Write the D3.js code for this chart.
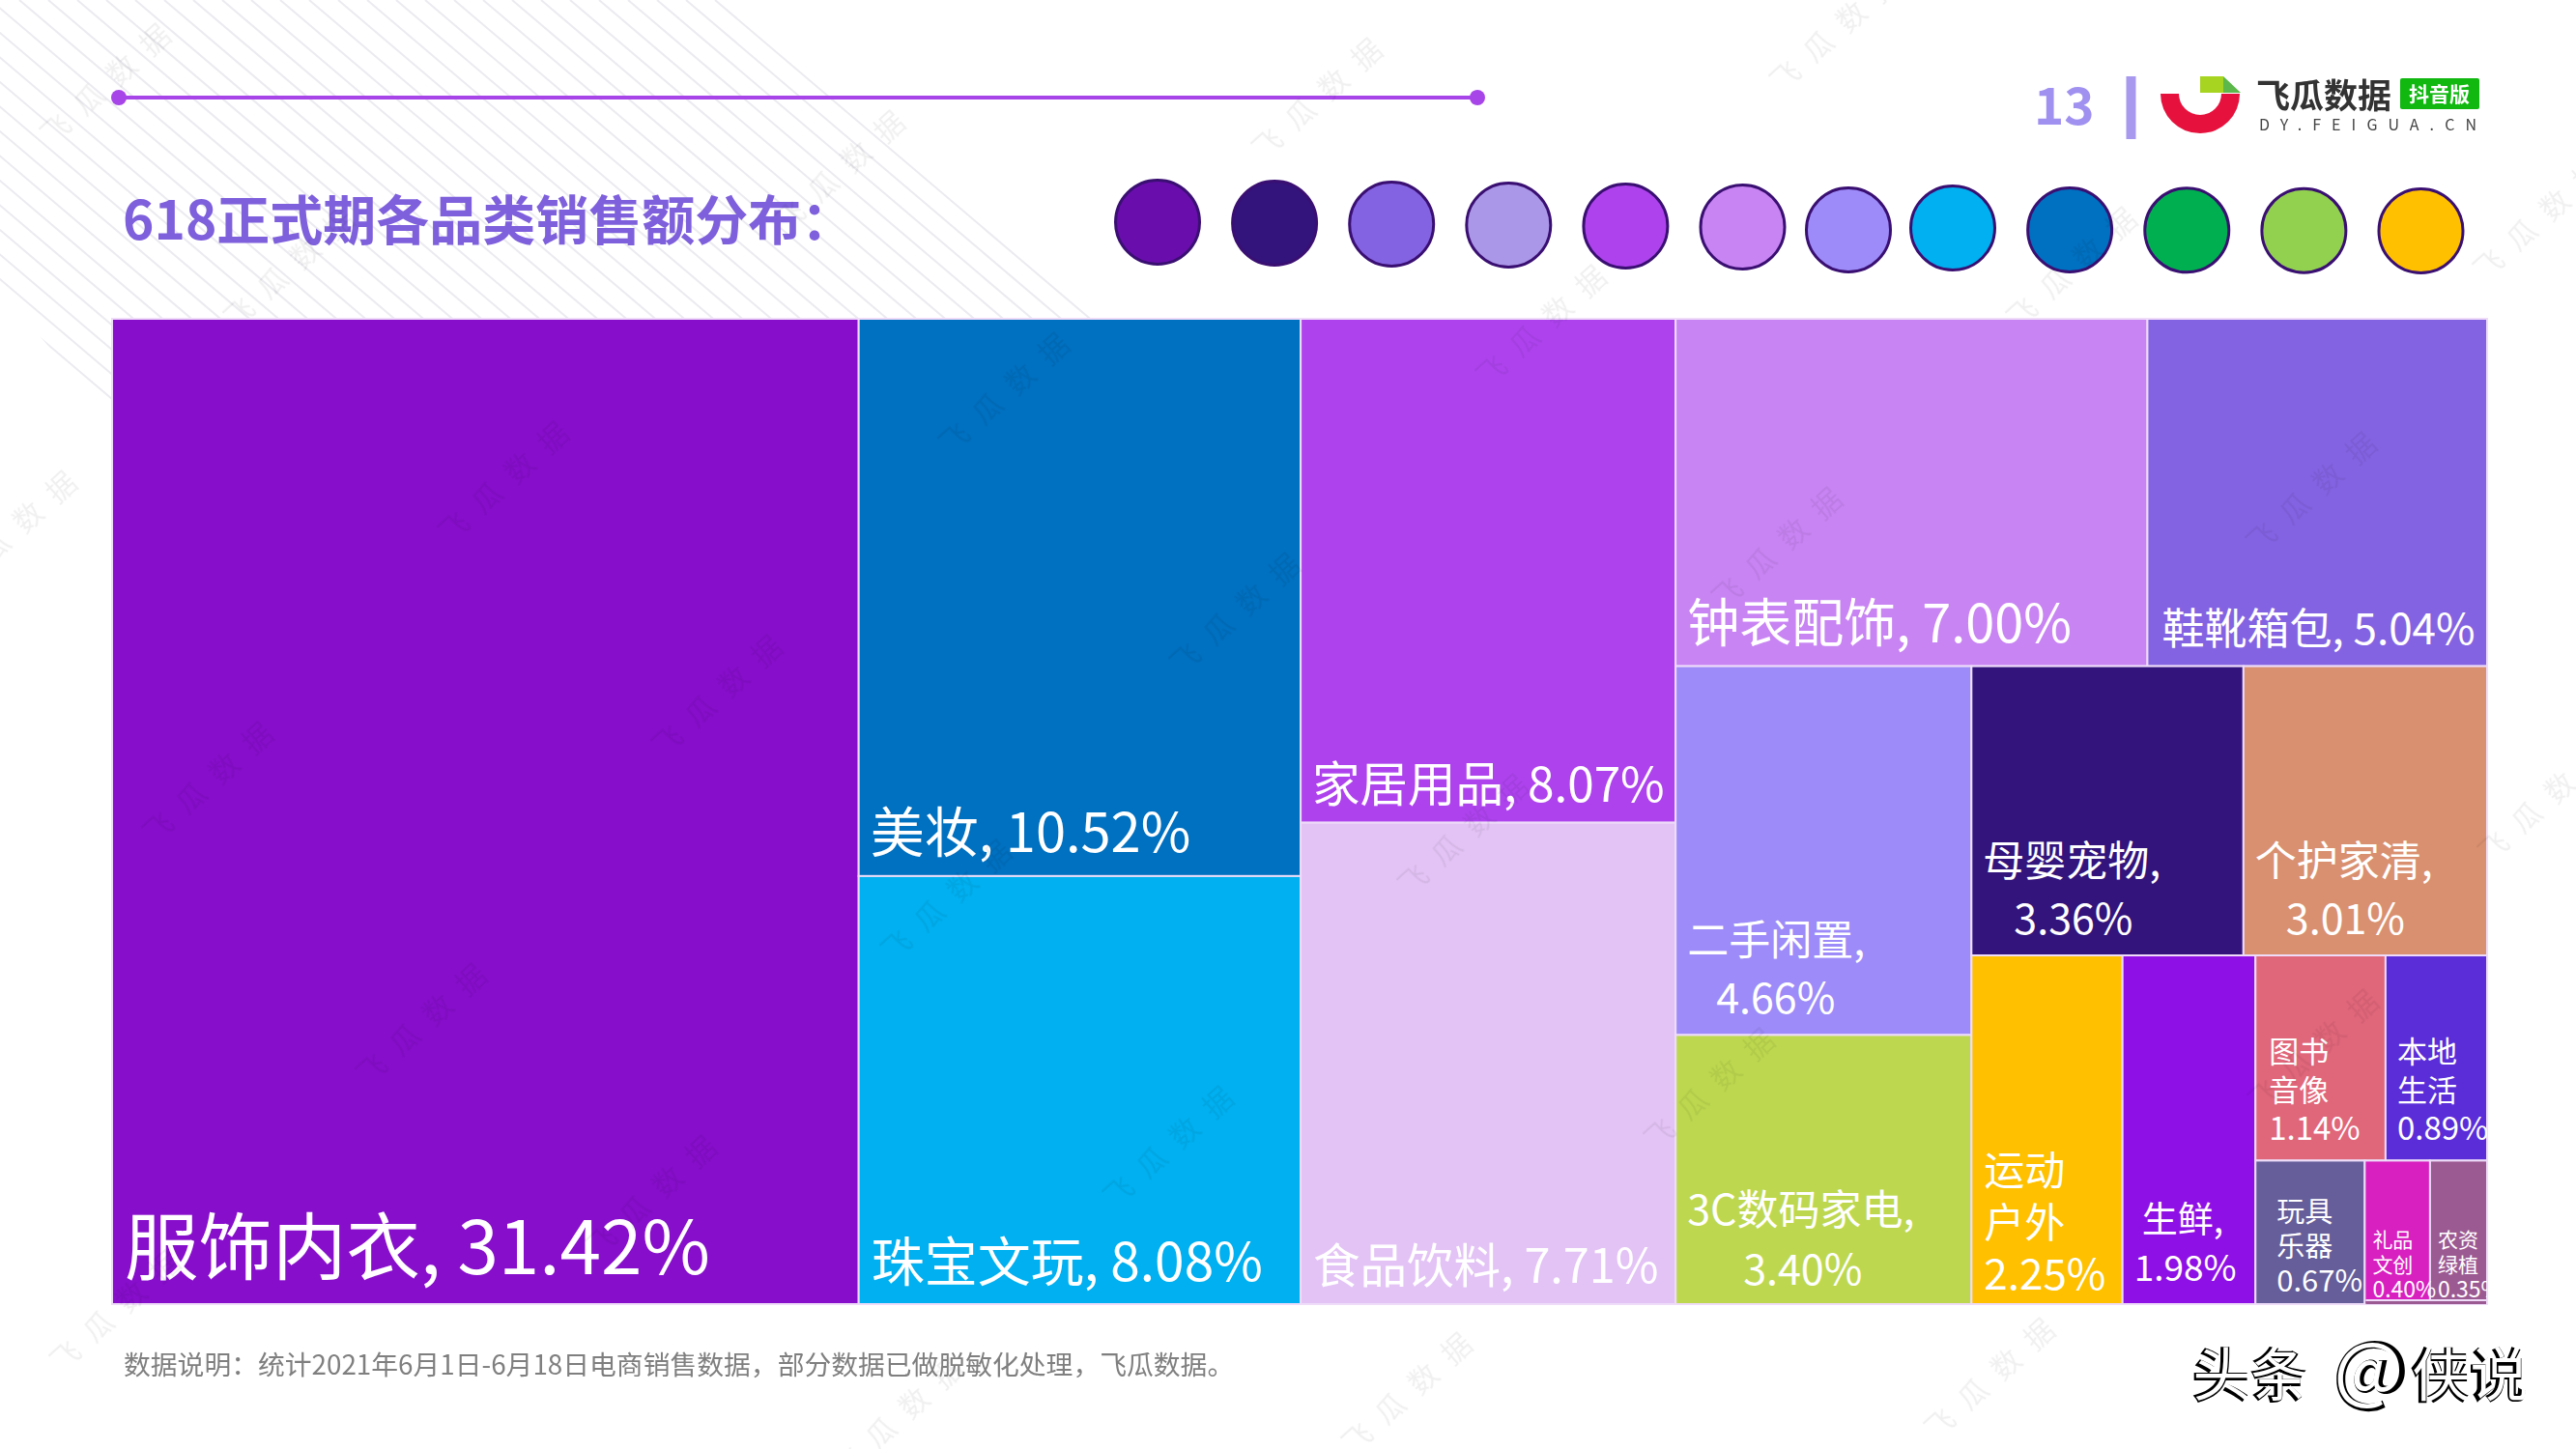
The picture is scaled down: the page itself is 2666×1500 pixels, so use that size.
<!DOCTYPE html>
<html>
<head>
<meta charset="utf-8">
<script src="https://cdn.jsdelivr.net/npm/d3@7"></script>
<style>
  html, body { margin: 0; padding: 0; background: #fff; }
  svg { display: block; }
  text { font-family: "Noto Sans CJK SC", "Noto Sans", sans-serif; }
</style>
</head>
<body>
<script>
// treemap values, in reading order
var categories = ["服饰内衣", "美妆", "珠宝文玩", "家居用品", "食品饮料", "钟表配饰", "鞋靴箱包", "二手闲置", "3C数码家电",
  "母婴宠物", "个护家清", "运动户外", "生鲜", "图书音像", "本地生活", "玩具乐器", "礼品文创", "农资绿植"];
var shares = [31.42, 10.52, 8.08, 8.07, 7.71, 7.00, 5.04, 4.66, 3.40, 3.36, 3.01, 2.25, 1.98, 1.14, 0.89, 0.67, 0.40, 0.35];
var cellColors = ["#870ecb", "#0070c0", "#00b0f0", "#ae43ee", "#e3c3f5", "#c884f3", "#8463e2", "#9c8bf8", "#bdd84f",
  "#32147c", "#d99070", "#ffc000", "#8f10e6", "#e0667a", "#5a2dd9", "#665e9a", "#d81fbf", "#9c5a92"];
var swatchColors = ["#6a0dad", "#32147c", "#8463e2", "#ab97e8", "#ae43ee", "#c884f3", "#9c8bf8", "#00b0f0", "#0070c0",
  "#00b050", "#92d050", "#ffc000"];

var titleText = "618正式期各品类销售额分布：";
var noteText = "数据说明：统计2021年6月1日-6月18日电商销售数据，部分数据已做脱敏化处理，飞瓜数据。";

// how the boxes nest: each entry is an index into categories, or a group
var nesting = [0, [1, 2], [3, 4], [[5, 6], [[7, 8], [[9, 10], [11, 12, [[13, 14], [15, 16, 17]]]]]]];

// label line breaks and placement, same order as categories
// s: font size, ps: size of the % line, dx/dy: offset from cell left/bottom, lh: line height, ind: indent per line
var labelStyle = [
  {split: 1, s: 76.5, dx: 13, dy: 31},
  {split: 1, s: 56, dx: 12, dy: 25},
  {split: 1, s: 55, dx: 13, dy: 24},
  {split: 1, s: 49.5, dx: 12, dy: 22},
  {split: 1, s: 48.5, dx: 13, dy: 22},
  {split: 1, s: 54, dx: 12, dy: 25},
  {split: 1, s: 44, dx: 15, dy: 23},
  {split: 2, s: 43, dx: 12, dy: 22, lh: 60, ind: [0, 30]},
  {split: 2, s: 43, dx: 12, dy: 20, lh: 62, ind: [0, 58]},
  {split: 2, s: 43, dx: 12, dy: 22, lh: 60, ind: [0, 32]},
  {split: 2, s: 43, dx: 12, dy: 22, lh: 60, ind: [0, 32]},
  {split: 3, s: 42, ps: 44, dx: 13, dy: 15, lh: 54, ind: [0, 0, 0]},
  {split: 2, s: 37, dx: 12, dy: 24, lh: 50, ind: [8, 0]},
  {split: 3, s: 31, ps: 33, dx: 14, dy: 21, lh: 40, ind: [0, 0, 0]},
  {split: 3, s: 31, ps: 33, dx: 12, dy: 21, lh: 40, ind: [0, 0, 0]},
  {split: 3, s: 29, ps: 31, dx: 22, dy: 13, lh: 36, ind: [0, 0, 0]},
  {split: 3, s: 21, ps: 23, dx: 8, dy: 7, lh: 26, ind: [0, 0, 0]},
  {split: 3, s: 21, ps: 23, dx: 8, dy: 7, lh: 26, ind: [0, 0, 0]}
];

var width = 2666, height = 1500;
var box = {left: 116, top: 330, right: 2574, bottom: 1350};

var svg = d3.select("body").append("svg").attr("width", width).attr("height", height);
var defs = svg.append("defs");

// faint diagonal background stripes in the top left wedge
defs.append("clipPath").attr("id", "stripeClip").append("path")
  .attr("d", "M0,0H745L1146,330H116V435L0,300Z");
svg.append("g").attr("clip-path", "url(#stripeClip)")
  .selectAll("path").data(d3.range(-700, 760, 30)).enter().append("path")
  .attr("d", function (d) { return "M" + d + ",0L" + (d + 560) + ",476"; })
  .attr("fill", "none").attr("stroke", "#ebebf0").attr("stroke-width", 2);

// header rule
var rule = svg.append("g").attr("fill", "#a745e8");
rule.append("rect").attr("x", 123).attr("y", 99).attr("width", 1406).attr("height", 4);
rule.selectAll("circle").data([123, 1529]).enter().append("circle")
  .attr("cx", function (d) { return d; }).attr("cy", 101).attr("r", 8);

svg.append("text").attr("x", 127).attr("y", 248).attr("font-size", 55).attr("font-weight", 700)
  .attr("fill", "#7e5fdc").text(titleText);

// colour dots
var dotX = d3.scaleLinear().domain([0, 5, 6, 7, 11]).range([1198, 1803.5, 1913, 2021, 2505.5]);
var dotY = d3.scaleLinear().domain([0, 5, 6, 7, 8, 11]).range([230, 235, 238, 236, 238, 239]);
svg.append("g").selectAll("circle").data(swatchColors).enter().append("circle")
  .attr("cx", function (d, i) { return dotX(i); })
  .attr("cy", function (d, i) { return dotY(i); })
  .attr("r", 43.5)
  .attr("fill", function (d) { return d; })
  .attr("stroke", "#3a0f72").attr("stroke-width", 3);

// treemap: boxes alternate between columns and rows with depth, so sliceDice gives the layout
function toTree(node) {
  if (typeof node === "number") return {name: categories[node], idx: node, value: shares[node]};
  return {children: node.map(toTree)};
}
var root = d3.hierarchy({children: nesting.map(toTree)}).sum(function (d) { return d.value || 0; });
d3.treemap()
  .tile(d3.treemapSliceDice)
  .size([box.right - box.left, box.bottom - box.top])(root);
var leaves = root.leaves();

var chart = svg.append("g").attr("transform", "translate(" + box.left + "," + box.top + ")");
defs.append("clipPath").attr("id", "boxClip").append("rect")
  .attr("width", box.right - box.left).attr("height", box.bottom - box.top);

chart.selectAll("rect.cell").data(leaves).enter().append("rect")
  .attr("class", "cell")
  .attr("x", function (d) { return d.x0; })
  .attr("y", function (d) { return d.y0; })
  .attr("width", function (d) { return d.x1 - d.x0; })
  .attr("height", function (d) { return d.y1 - d.y0; })
  .attr("fill", function (d) { return cellColors[d.data.idx]; })
  .attr("stroke", "#eedcf9").attr("stroke-width", 2);

// thin strip under the two smallest cells
var gift = leaves[16], farm = leaves[17];
chart.append("rect").attr("x", gift.x0 + 1).attr("y", gift.y1 - 3)
  .attr("width", farm.x1 - gift.x0 - 2).attr("height", 3).attr("fill", cellColors[17]);
chart.append("rect").attr("x", gift.x0 + 1).attr("y", gift.y1 - 5)
  .attr("width", farm.x1 - gift.x0 - 2).attr("height", 2).attr("fill", "#eedcf9");

// tiled watermark, over the page and the cells
var marks = [[122, 90], [1376, 105], [882, 180], [1912, 35], [312, 280], [1608, 340], [1052, 410], [534, 502], [2405, 513],
  [1852, 570], [1291, 638], [755, 723], [228, 813], [2157, 280], [2640, 230], [25, 553], [2645, 833], [1527, 867], [992, 935],
  [449, 1063], [1782, 1130], [2407, 1090], [1222, 1190], [687, 1241], [132, 1360], [1469, 1445], [2072, 1430], [942, 1470]];
svg.append("g").attr("fill", "#000").attr("opacity", 0.06)
  .selectAll("text").data(marks).enter().append("text")
  .attr("transform", function (d) { return "translate(" + d[0] + "," + d[1] + ") rotate(-42)"; })
  .attr("text-anchor", "middle")
  .attr("font-size", 30)
  .attr("letter-spacing", 16)
  .text("飞瓜数据");

function labelLines(d) {
  var st = labelStyle[d.data.idx], name = d.data.name, pct = shares[d.data.idx].toFixed(2) + "%";
  if (st.split === 1) return [name + ", " + pct];
  if (st.split === 2) return [name + ",", pct];
  return [name.slice(0, 2), name.slice(2), pct];
}

var labels = chart.append("g").attr("clip-path", "url(#boxClip)").selectAll("g").data(leaves).enter().append("g");
labels.each(function (d) {
  var st = labelStyle[d.data.idx], lines = labelLines(d);
  d3.select(this).selectAll("text").data(lines).enter().append("text")
    .attr("x", function (t, i) { return d.x0 + st.dx + (st.ind ? st.ind[i] : 0); })
    .attr("y", function (t, i) { return d.y1 - st.dy - (lines.length - 1 - i) * (st.lh || 0); })
    .attr("font-size", function (t, i) { return (st.ps && i === lines.length - 1) ? st.ps : st.s; })
    .attr("fill", "#fff")
    .text(function (t) { return t; });
});

// page number and logo
svg.append("text").attr("x", 2105).attr("y", 129).attr("font-size", 53).attr("font-weight", 700)
  .attr("font-family", "Noto Sans").attr("fill", "#a090f0").text("13");
svg.append("rect").attr("x", 2200.5).attr("y", 79).attr("width", 10).attr("height", 65).attr("fill", "#a899ee");

var logo = svg.append("g");
logo.append("path").attr("transform", "translate(2277,97)")
  .attr("d", d3.arc()({innerRadius: 22, outerRadius: 41, startAngle: Math.PI / 2, endAngle: Math.PI * 1.5}))
  .attr("fill", "#e6123d");
logo.append("rect").attr("x", 2277).attr("y", 79).attr("width", 24).attr("height", 17).attr("fill", "#a6d421");
logo.append("path").attr("d", "M2301,79L2319,96H2301Z").attr("fill", "#5cb84a");
logo.append("text").attr("x", 2335).attr("y", 112).attr("font-size", 35).attr("font-weight", 700)
  .attr("fill", "#333").text("飞瓜数据");
logo.append("rect").attr("x", 2484).attr("y", 81).attr("width", 82).attr("height", 32).attr("rx", 2).attr("fill", "#10b810");
logo.append("text").attr("x", 2493).attr("y", 105).attr("font-size", 21).attr("font-weight", 700)
  .attr("fill", "#fff").text("抖音版");
logo.append("text").attr("x", 2338).attr("y", 135).attr("font-size", 16).attr("font-family", "Noto Sans")
  .attr("fill", "#444").attr("textLength", 225).attr("lengthAdjust", "spacing").text("DY.FEIGUA.CN");

svg.append("text").attr("x", 128).attr("y", 1423).attr("font-size", 27.8).attr("fill", "#7f7f7f").text(noteText);

// embossed repost stamp: heavy black copy with a thin white copy shifted on top
var stampParts = [["头条", 2268, 60], ["@", 2414, 76], ["侠说", 2495, 60]];
var stamp = svg.append("g");
[["#000", 0, 900], ["#fff", 1.5, 400]].forEach(function (layer) {
  stamp.append("g").attr("fill", layer[0]).attr("font-weight", layer[2])
    .selectAll("text").data(stampParts).enter().append("text")
    .attr("x", function (d) { return d[1] + layer[1]; })
    .attr("y", 1446 - layer[1])
    .attr("font-size", function (d) { return d[2]; })
    .text(function (d) { return d[0]; });
});
</script>
</body>
</html>
